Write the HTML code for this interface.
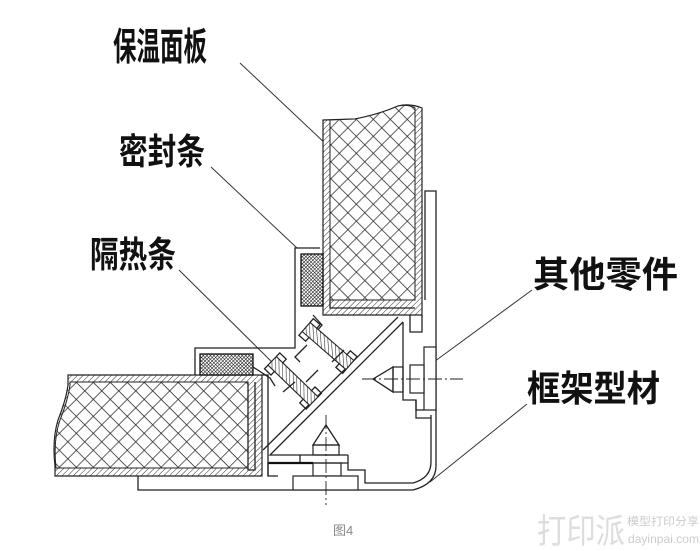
<!DOCTYPE html>
<html><head><meta charset="utf-8"><style>
html,body{margin:0;padding:0;background:#fff;}
svg{display:block;}
.l{fill:none;stroke:#222;stroke-width:1.3;}
.t{font-family:"Liberation Sans","Noto Sans CJK SC",sans-serif;font-weight:bold;fill:#111;}
</style></head><body>
<svg width="700" height="551" viewBox="0 0 700 551" xmlns="http://www.w3.org/2000/svg">
<defs>
<pattern id="x" width="12" height="12" patternUnits="userSpaceOnUse" patternTransform="rotate(45)">
<rect width="12" height="12" fill="#fff"/>
<path d="M0 0H12M0 0V12" stroke="#222" stroke-width="1.4"/>
</pattern>
<pattern id="h" width="4" height="4" patternUnits="userSpaceOnUse" patternTransform="rotate(45)">
<rect width="4" height="4" fill="#fff"/><path d="M0 0V4" stroke="#333" stroke-width="1"/>
</pattern>
<pattern id="d" width="2.5" height="2.5" patternUnits="userSpaceOnUse" patternTransform="rotate(45)">
<rect width="2.5" height="2.5" fill="#fff"/><path d="M0 0H2.5M0 0V2.5" stroke="#111" stroke-width="1.1"/>
</pattern>
<pattern id="s" width="3.5" height="3.5" patternUnits="userSpaceOnUse" patternTransform="rotate(-45)">
<rect width="3.5" height="3.5" fill="#fff"/><path d="M0 0V3.5" stroke="#222" stroke-width="1.1"/>
</pattern>
</defs>

<text class="t" x="113" y="60" font-size="38" textLength="94" lengthAdjust="spacingAndGlyphs">保温面板</text>
<text class="t" x="119" y="164" font-size="36" textLength="86" lengthAdjust="spacingAndGlyphs">密封条</text>
<text class="t" x="90" y="267" font-size="36" textLength="86" lengthAdjust="spacingAndGlyphs">隔热条</text>
<text class="t" x="533" y="287" font-size="36" textLength="145" lengthAdjust="spacingAndGlyphs">其他零件</text>
<text class="t" x="527" y="401" font-size="36" textLength="133" lengthAdjust="spacingAndGlyphs">框架型材</text>

<g stroke="#333" stroke-width="1">
<line x1="240" y1="63" x2="345" y2="162"/>
<line x1="211" y1="167" x2="297" y2="248"/>
<line x1="179" y1="270" x2="282" y2="372"/>
<line x1="532" y1="290" x2="427" y2="367"/>
<line x1="527" y1="404" x2="430" y2="482"/>
</g>

<path d="M323 120 L355 119 Q380 114 398 106 Q410 103 422 108 L422 315 L323 315 Z" fill="url(#h)" stroke="#222" stroke-width="1.2"/>
<path d="M330 120 L355 119 Q380 114 398 106 Q408 104 415 108 L415 300 L330 300 Z" fill="url(#x)" stroke="#222" stroke-width="1"/>
<path class="l" d="M330 300 V308 H415"/>
<path class="l" d="M410 315 V332 H422 V315"/>

<path class="l" d="M425 300 V191 H436 V466 Q436 484 413 490 H138 V476"/>
<path class="l" d="M431 415 V462 Q431 478 413 483 H365 V470 H348 V455"/>
<rect x="424" y="347" width="12" height="63" fill="#fff" stroke="#222" stroke-width="1.2"/>
<path class="l" d="M403 322 V400 H416 V418 H431"/>
<path class="l" d="M416 400 V410 H424"/>
<path class="l" d="M373 379 L393 367 V392 Z"/>
<rect x="393" y="367" width="10" height="25" fill="none" stroke="#222" stroke-width="1.2"/>
<rect x="410" y="365" width="14" height="28" fill="#fff" stroke="#222" stroke-width="1.2"/>
<line x1="362" y1="379" x2="463" y2="379" stroke="#222" stroke-width="0.9" stroke-dasharray="14 3 2 3"/>

<path class="l" d="M398 317 L263 450"/>
<path class="l" d="M403 322 L270 455 H348"/>
<path class="l" d="M326 425 L313 445 H339 Z"/>
<rect x="313" y="445" width="26" height="10" fill="none" stroke="#222" stroke-width="1.2"/>
<path class="l" d="M300 455 V463 H348"/>
<rect x="313" y="463" width="28" height="13" fill="none" stroke="#222" stroke-width="1.2"/>
<rect x="293" y="476" width="65" height="14" fill="#fff" stroke="#222" stroke-width="1.2"/>
<line x1="326" y1="415" x2="326" y2="505" stroke="#222" stroke-width="0.9" stroke-dasharray="14 3 2 3"/>
<path d="M268 463 H313" stroke="#111" stroke-width="2.2"/>
<path class="l" d="M268 463 V476 H278"/>

<path d="M68 375 H262 V476 H55 L55 466 Q52 440 58 420 Q66 400 68 385 Z" fill="url(#h)" stroke="#222" stroke-width="1.2"/>
<path d="M70 382 H248 V468 H56 Q53 440 60 420 Q68 400 70 385 Z" fill="url(#x)" stroke="#222" stroke-width="1"/>
<path class="l" d="M248 382 V470 H255 V382"/>
<path class="l" d="M262 375 H268 V476"/>

<path class="l" d="M195 375 V348 H295 V248 H320"/>
<rect x="301" y="254" width="22" height="52" fill="url(#d)" stroke="#111" stroke-width="1.3"/>
<rect x="200" y="354" width="53" height="21" fill="url(#d)" stroke="#111" stroke-width="1.3"/>
<path class="l" d="M253 367 L270 378 L275 386"/>
<path class="l" d="M313 315 L322 325 L317 331"/>

<g transform="translate(328,346) rotate(41)">
<rect x="-29" y="-6" width="58" height="12" fill="url(#s)" stroke="#222" stroke-width="1.1"/>
<path class="l" d="M-29 -6 V-11 H-20 V-6 M-29 6 V11 H-20 V6 M29 -6 V-11 H20 V-6 M29 6 V11 H20 V6"/>
</g>
<g transform="translate(293,381) rotate(44)">
<rect x="-29" y="-6" width="58" height="12" fill="url(#s)" stroke="#222" stroke-width="1.1"/>
<path class="l" d="M-29 -6 V-11 H-20 V-6 M-29 6 V11 H-20 V6 M29 -6 V-11 H20 V-6 M29 6 V11 H20 V6"/>
</g>
<path class="l" d="M307 345 L295 357 L300 362 M318 370 L306 382 M332 362 L344 350 M283 392 L295 382"/>

<text x="333" y="535" font-family="Liberation Sans,'Noto Sans CJK SC',sans-serif" font-size="13" fill="#888">图4</text>
<text x="537" y="543" font-family="Liberation Sans,'Noto Sans CJK SC',sans-serif" font-size="34" fill="#ddd" textLength="88" lengthAdjust="spacingAndGlyphs">打印派</text>
<text x="627" y="525" font-family="Liberation Sans,'Noto Sans CJK SC',sans-serif" font-size="11" fill="#ccc" textLength="72" lengthAdjust="spacingAndGlyphs">模型打印分享</text>
<text x="628" y="543" font-family="Liberation Sans,sans-serif" font-size="12" fill="#ccc" textLength="71" lengthAdjust="spacingAndGlyphs">dayinpai.com</text>
</svg>
</body></html>
